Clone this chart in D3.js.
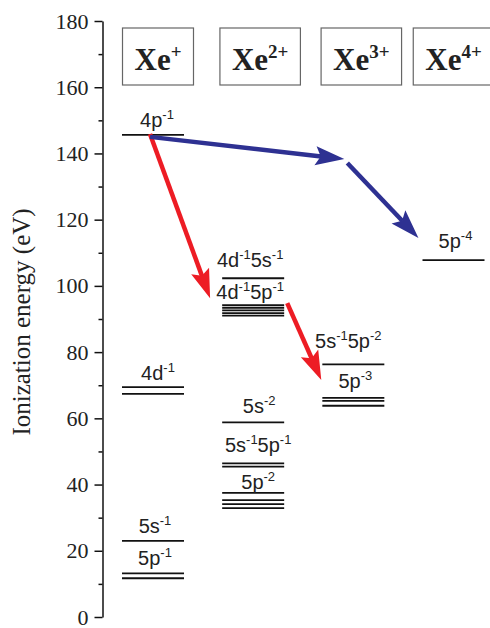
<!DOCTYPE html>
<html lang="en">
<head>
<meta charset="UTF-8">
<title>Xe ionization energy levels</title>
<script src="https://d3js.org/d3.v7.min.js"></script>
<style>
  body { margin: 0; background: #fff; }
  svg { display: block; }
</style>
</head>
<body>
<svg id="chart" width="490" height="628"></svg>
<script>
// ---- data ----
var ionNames = ["Xe", "Xe", "Xe", "Xe"];
var ionCharges = ["+", "2+", "3+", "4+"];
var yTicks = [0, 20, 40, 60, 80, 100, 120, 140, 160, 180];
var yMinorTicks = [10, 30, 50, 70, 90, 110, 130, 150, 170];

// energy levels (eV) per ion column
var levelsXe1 = [145.6, 69.4, 67.4, 23.0, 13.2, 11.7];
var levelsXe2 = [102.3, 94.2, 93.4, 92.6, 91.8, 91.0, 58.8, 46.4, 45.4, 37.5, 35.3, 34.1, 32.9];
var levelsXe3 = [76.3, 66.2, 65.3, 63.8];
var levelsXe4 = [107.8];

// configuration labels: column (fractional), energy of baseline (eV), [base, superscript] parts
var labelCol = [0.04, 0.05, 0.02, 0.02, 0.97, 0.97, 1.06, 1.05, 1.05, 1.95, 2.02, 3.02];
var labelE   = [148.0, 71.6, 25.5, 15.7, 105.8, 96.0, 61.6, 49.8, 38.7, 81.2, 69.2, 111.4];
var labelParts = [
  [["4p", "-1"]],
  [["4d", "-1"]],
  [["5s", "-1"]],
  [["5p", "-1"]],
  [["4d", "-1"], ["5s", "-1"]],
  [["4d", "-1"], ["5p", "-1"]],
  [["5s", "-2"]],
  [["5s", "-1"], ["5p", "-1"]],
  [["5p", "-2"]],
  [["5s", "-1"], ["5p", "-2"]],
  [["5p", "-3"]],
  [["5p", "-4"]]
];

// decay arrows: [col, eV] -> [col, eV]
var arrowFrom  = [[-0.03, 145.9], [1.34, 94.8], [-0.03, 145.0], [1.94, 137.1]];
var arrowTo    = [[0.57, 96.3], [1.68, 71.6], [1.91, 138.3], [2.65, 114.5]];
var arrowKind  = ["red", "red", "blue", "blue"];

// ---- setup ----
var svg = d3.select("#chart");
var y = d3.scaleLinear().domain([0, 180]).range([617, 21]);
var x = d3.scaleLinear().domain([0, 3]).range([153, 453.5]);
var halfW = 31;
var axisX = 102.5;
var headerShift = [5, 7, 8, 0];
var arrowColor = { red: "#ed1c24", blue: "#2e3192" };
var serif = "'Liberation Serif', 'Times New Roman', serif";

// ---- y axis ----
var gAxis = svg.append("g")
    .attr("transform", "translate(" + axisX + ",0)")
    .call(d3.axisLeft(y).tickValues(yTicks).tickSize(8).tickSizeOuter(0).tickPadding(6).tickFormat(d3.format("d")));
gAxis.attr("font-family", null).attr("font-size", null);
gAxis.select(".domain").attr("stroke-width", 1.5).attr("stroke", "#111");
gAxis.selectAll(".tick line").attr("stroke-width", 1.5).attr("stroke", "#111");
gAxis.selectAll(".tick text")
    .style("font-family", serif)
    .style("font-size", "22px")
    .attr("fill", "#222");

var gMinor = svg.append("g")
    .attr("transform", "translate(" + axisX + ",0)")
    .call(d3.axisLeft(y).tickValues(yMinorTicks).tickSize(4).tickFormat(""));
gMinor.select(".domain").remove();
gMinor.selectAll(".tick line").attr("stroke-width", 1.5).attr("stroke", "#111");

svg.append("text")
    .attr("transform", "translate(30,322) rotate(-90)")
    .attr("text-anchor", "middle")
    .style("font-family", serif)
    .style("font-size", "25px")
    .attr("fill", "#222")
    .text("Ionization energy (eV)");

// ---- ion header boxes ----
ionNames.forEach(function(name, i) {
  var cx = x(i) + headerShift[i];
  var g = svg.append("g");
  var t = g.append("text")
      .attr("x", cx)
      .attr("y", 70)
      .attr("text-anchor", "middle")
      .style("font-family", serif)
      .style("font-weight", "bold")
      .style("font-size", "31px")
      .attr("fill", "#222");
  t.append("tspan").text(name);
  t.append("tspan").attr("dy", -12).style("font-size", "19px").text(ionCharges[i]);
  var bb = t.node().getBBox();
  g.insert("rect", "text")
      .attr("x", bb.x - 12)
      .attr("y", 28)
      .attr("width", bb.width + 24)
      .attr("height", 57)
      .attr("fill", "none")
      .attr("stroke", "#666")
      .attr("stroke-width", 1.2);
});

// ---- energy levels ----
var levelRows = [];
[levelsXe1, levelsXe2, levelsXe3, levelsXe4].forEach(function(arr, col) {
  arr.forEach(function(e) { levelRows.push({ col: col, e: e }); });
});

svg.append("g").selectAll("line")
    .data(levelRows)
    .enter().append("line")
    .attr("x1", function(d) { return x(d.col) - halfW; })
    .attr("x2", function(d) { return x(d.col) + halfW; })
    .attr("y1", function(d) { return y(d.e); })
    .attr("y2", function(d) { return y(d.e); })
    .attr("stroke", "#111")
    .attr("stroke-width", 1.8);

// ---- configuration labels ----
labelParts.forEach(function(parts, i) {
  var t = svg.append("text")
      .attr("x", x(labelCol[i]))
      .attr("y", y(labelE[i]))
      .attr("text-anchor", "middle")
      .style("font-family", "'Liberation Sans', Arial, sans-serif")
      .style("font-size", "20px")
      .attr("fill", "#222");
  parts.forEach(function(p, j) {
    t.append("tspan").attr("dy", j === 0 ? 0 : 8).text(p[0]);
    t.append("tspan").attr("dy", -8).style("font-size", "13px").text(p[1]);
  });
});

// ---- arrows ----
var headLen = 29, headHalf = 9.5;
arrowFrom.forEach(function(f, i) {
  var x0 = x(f[0]), y0 = y(f[1]);
  var x1 = x(arrowTo[i][0]), y1 = y(arrowTo[i][1]);
  var dx = x1 - x0, dy = y1 - y0, len = Math.sqrt(dx * dx + dy * dy);
  var ux = dx / len, uy = dy / len, nx = -uy, ny = ux;
  var bx = x1 - ux * headLen, by = y1 - uy * headLen;
  var col = arrowColor[arrowKind[i]];
  svg.append("line")
      .attr("x1", x0).attr("y1", y0)
      .attr("x2", x1 - ux * headLen * 0.8).attr("y2", y1 - uy * headLen * 0.8)
      .attr("stroke", col)
      .attr("stroke-width", 4.5);
  var pts = [
    [x1, y1],
    [bx + nx * headHalf, by + ny * headHalf],
    [x1 - ux * headLen * 0.82, y1 - uy * headLen * 0.82],
    [bx - nx * headHalf, by - ny * headHalf]
  ];
  svg.append("polygon")
      .attr("points", pts.map(function(p) { return p.join(","); }).join(" "))
      .attr("fill", col);
});
</script>
</body>
</html>
